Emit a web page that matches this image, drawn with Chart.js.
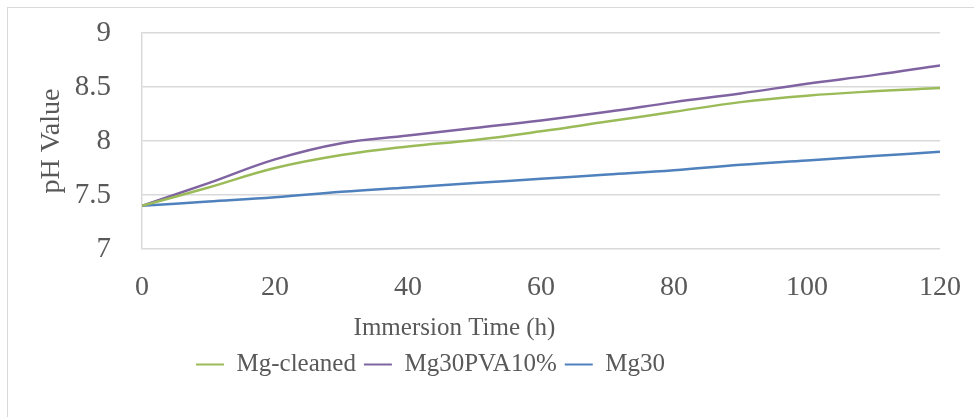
<!DOCTYPE html>
<html>
<head>
<meta charset="utf-8">
<script src="https://cdn.jsdelivr.net/npm/chart.js@4/dist/chart.umd.min.js"></script>
<style>
  body { margin: 0; background: #fff; }
  #frame { position: absolute; left: 7px; top: 7px; width: 980px; height: 420px;
           border-top: 1px solid #d9d9d9; border-left: 1px solid #d9d9d9; }
  #myChart { position: absolute; left: 0; top: 0; }
</style>
</head>
<body>
<div id="frame"></div>
<canvas id="myChart" width="974" height="417"></canvas>
<script>
// horas de inmersion (eje x)
const hours = [0, 10, 20, 30, 40, 50, 60, 70, 80, 90, 100, 110, 120];
// valores de pH
const mgCleaned = [7.40, 7.57, 7.75, 7.87, 7.95, 8.01, 8.09, 8.18, 8.27, 8.36, 8.42, 8.46, 8.49];
const mg30Pva10 = [7.40, 7.61, 7.83, 7.98, 8.05, 8.12, 8.19, 8.27, 8.36, 8.44, 8.53, 8.61, 8.70];
const mg30 = [7.40, 7.44, 7.48, 7.53, 7.57, 7.61, 7.65, 7.69, 7.73, 7.78, 7.82, 7.86, 7.90];
const seriesNames = ["Mg-cleaned", "Mg30PVA10%", "Mg30"];
const xTitle = "Immersion Time (h)";
const yTitle = "pH Value";

const colores = ["#9bbb59", "#8064a2", "#4f81bd"];
const textColor = "#595959";
const gridColor = "#d9d9d9";
const serif = "'Liberation Serif', 'Times New Roman', serif";

function puntos(valores) {
  return valores.map((v, i) => ({ x: hours[i], y: v }));
}

const series = [mgCleaned, mg30Pva10, mg30];

// mueve leyenda y titulo inferior un poco a la izquierda como en el original
const shiftPlugin = {
  id: "shiftBottom",
  afterLayout(chart) {
    const lg = chart.legend;
    lg.left -= 53; lg.right -= 53;
    const tb = chart.titleBlock;
    tb.left -= 29; tb.right -= 29;
  },
};

new Chart(document.getElementById("myChart"), {
  type: "line",
  data: {
    datasets: series.map((valores, i) => ({
      label: seriesNames[i],
      data: puntos(valores),
      borderColor: colores[i],
      backgroundColor: colores[i],
      borderWidth: 2.5,
      pointRadius: 0,
      tension: 0.4,
      fill: false,
    })),
  },
  options: {
    responsive: false,
    animation: false,
    devicePixelRatio: 1,
    layout: { padding: { left: 27, top: 33, right: 34, bottom: 30 } },
    scales: {
      x: {
        type: "linear",
        min: 0,
        max: 120,
        afterFit(scale) {
          scale.height = 53;
          scale.paddingLeft = 0;
          scale.paddingRight = 0;
        },
        ticks: { stepSize: 20, color: textColor, padding: 25, font: { family: serif, size: 28, lineHeight: 1 } },
        grid: { display: false, drawTicks: false },
        border: { display: false },
      },
      y: {
        min: 7,
        max: 9,
        afterFit(scale) {
          scale.width = 115;
          scale.paddingTop = 0;
          scale.paddingBottom = 0;
        },
        ticks: {
          stepSize: 0.5,
          color: textColor,
          padding: 31,
          font: { family: serif, size: 29 },
          callback: (v) => String(v),
        },
        grid: { color: gridColor, lineWidth: 1.5, drawTicks: false },
        border: { display: true, color: gridColor, width: 1.5 },
        title: { display: true, text: yTitle, color: textColor, padding: 8, font: { family: serif, size: 28 } },
      },
    },
    plugins: {
      title: {
        display: true,
        position: "bottom",
        weight: 500,
        text: xTitle,
        color: textColor,
        padding: { top: 14, bottom: 3 },
        font: { family: serif, size: 25, weight: "normal", lineHeight: 1 },
      },
      legend: {
        position: "bottom",
        labels: {
          color: textColor,
          boxWidth: 28,
          boxHeight: 2,
          padding: 8,
          font: { family: serif, size: 25 },
          generateLabels(chart) {
            return Chart.defaults.plugins.legend.labels.generateLabels(chart).map((l) => {
              l.lineWidth = 0;
              return l;
            });
          },
        },
      },
      tooltip: { enabled: false },
    },
  },
  plugins: [shiftPlugin],
});
</script>
</body>
</html>
